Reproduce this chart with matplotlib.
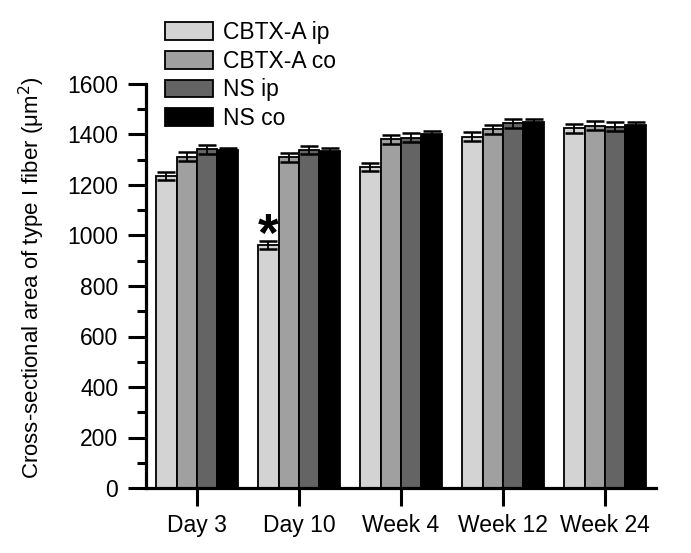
import numpy as np
import matplotlib
matplotlib.use("Agg")
import matplotlib.pyplot as plt
from matplotlib.ticker import MultipleLocator

plt.rcParams['font.family'] = ['Liberation Sans', 'DejaVu Sans']

# data
groups = ['Day 3', 'Day 10', 'Week 4', 'Week 12', 'Week 24']
series = ['CBTX-A ip', 'CBTX-A co', 'NS ip', 'NS co']
cbtx_ip = [1236, 962, 1272, 1391, 1424]
cbtx_co = [1312, 1310, 1381, 1421, 1434]
ns_ip = [1341, 1339, 1387, 1444, 1431]
ns_co = [1339, 1336, 1400, 1448, 1438]
err_cbtx_ip = [16, 17, 17, 17, 18]
err_cbtx_co = [17, 17, 17, 18, 18]
err_ns_ip = [17, 17, 17, 17, 17]
err_ns_co = [6, 10, 12, 13, 10]
colors = ['#d3d3d3', '#a0a0a0', '#646464', '#000000']

values = [cbtx_ip, cbtx_co, ns_ip, ns_co]
errors = [err_cbtx_ip, err_cbtx_co, err_ns_ip, err_ns_co]

fig = plt.figure(figsize=(6.91, 5.53), dpi=100)
ax = fig.add_axes([146 / 691, 1 - 488 / 553, 510 / 691, 404 / 553])

x = np.arange(len(groups))
w = 0.2
for i in range(4):
    pos = x + (i - 1.5) * w
    ax.bar(pos, values[i], width=w, color=colors[i], edgecolor='black',
           linewidth=1.3, label=series[i], zorder=2)
    ax.errorbar(pos, values[i], yerr=errors[i], fmt='none', ecolor='black',
                elinewidth=1.3, capsize=6.5, capthick=1.8, zorder=3)

# significance mark
ax.text(x[1] - 1.5 * w, 940, '*', ha='center', va='baseline',
        fontsize=38, fontweight='bold')

ax.set_xlim(-0.5, 4.5)
ax.set_ylim(0, 1600)
ax.set_xticks(x)
ax.set_xticklabels(groups)
ax.yaxis.set_major_locator(MultipleLocator(200))
ax.yaxis.set_minor_locator(MultipleLocator(100))

ax.spines['top'].set_visible(False)
ax.spines['right'].set_visible(False)
ax.spines['left'].set_linewidth(2.3)
ax.spines['bottom'].set_linewidth(2.3)
ax.tick_params(axis='both', which='major', direction='out', length=13,
               width=2.2, labelsize=16.5)
ax.tick_params(axis='y', which='major', pad=7)
ax.tick_params(axis='x', which='major', pad=6)
ax.tick_params(axis='y', which='minor', direction='out', length=6.5, width=2.2)

ax.set_ylabel('Cross-sectional area of type I fiber (μm$^2$)', fontsize=16)
ax.yaxis.set_label_coords(-0.195, 0.52)

ax.legend(loc='upper left', bbox_to_anchor=(165 / 691, 1 - 21 / 553),
          bbox_transform=fig.transFigure, frameon=False, fontsize=16.5,
          handlelength=2.1, handleheight=0.8, handletextpad=0.45,
          labelspacing=0.25, borderpad=0, borderaxespad=0)

fig.savefig('out.png', dpi=100)
